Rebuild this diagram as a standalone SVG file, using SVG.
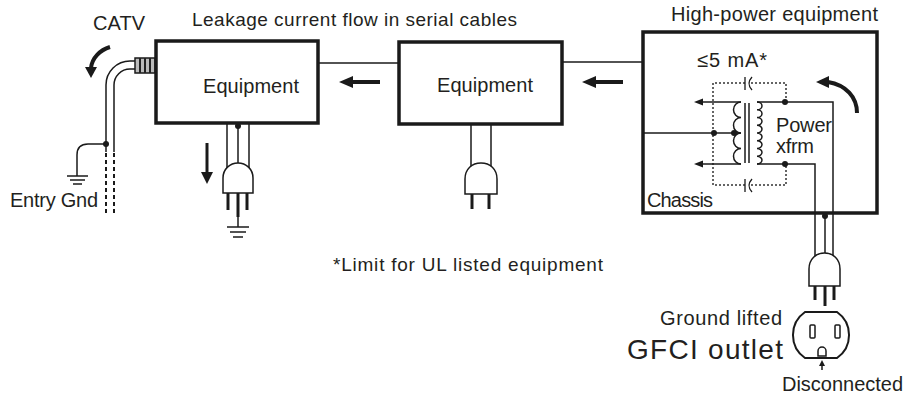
<svg xmlns="http://www.w3.org/2000/svg" width="905" height="396" viewBox="0 0 905 396">
  <defs>
    <style>
      .txt { font-family: "Liberation Sans", Arial, sans-serif; font-size: 20px; fill: #231f20; }
      .big { font-size: 28px; }
      .small { font-size: 19px; }
      .box { fill: #fff; stroke: #1a1a1a; stroke-width: 3.5; }
      .wire { fill: none; stroke: #1a1a1a; stroke-width: 1.5; }
      .dot { fill: #1a1a1a; }
      .dotted { fill: none; stroke: #333; stroke-width: 1.5; stroke-dasharray: 2 2; }
      .flow { fill: none; stroke: #1a1a1a; stroke-width: 4; }
      .head { fill: #1a1a1a; }
      .plug { fill: #fff; stroke: #1a1a1a; stroke-width: 1.5; }
      .prong { stroke: #1a1a1a; stroke-width: 3; }
      .gnd { stroke: #1a1a1a; stroke-width: 1.5; }
    </style>
  </defs>
  <rect width="905" height="396" fill="#fff"/>

  <!-- serial cables between the units -->
  <g id="connectors">
    <line class="wire" x1="318" y1="63" x2="399" y2="63"/>
    <line class="wire" x1="562" y1="62" x2="643" y2="62"/>
    <!-- leakage current flow arrows -->
    <line class="flow" x1="380" y1="82" x2="350" y2="82"/>
    <polygon class="head" points="339,82 353,76 353,88"/>
    <line class="flow" x1="623" y1="82" x2="593" y2="82"/>
    <polygon class="head" points="582,82 596,76 596,88"/>
  </g>

  <!-- CATV drop with entry ground -->
  <g id="catv">
    <path class="wire" d="M135,61 L130,61 A24 24 0 0 0 106,85 L106,152"/>
    <path class="wire" d="M135,69 L130,69 A16 16 0 0 0 114,85 L114,152"/>
    <line x1="106" y1="153" x2="106" y2="216" stroke="#1a1a1a" stroke-width="2" stroke-dasharray="4 3"/>
    <line x1="114" y1="153" x2="114" y2="216" stroke="#1a1a1a" stroke-width="2" stroke-dasharray="4 3"/>
    <circle class="dot" cx="106" cy="144" r="3"/>
    <path class="wire" d="M106,144 L88,144 Q77,144 77,155 L77,176"/>
    <line class="gnd" x1="67" y1="176" x2="88" y2="176"/>
    <line class="gnd" x1="70" y1="180" x2="85" y2="180"/>
    <line class="gnd" x1="73" y1="184" x2="82" y2="184"/>
    <!-- F connector -->
    <rect x="135" y="58" width="20" height="15" fill="#bbb" stroke="#1a1a1a" stroke-width="1.5"/>
    <line x1="140" y1="58" x2="140" y2="73" stroke="#222" stroke-width="2"/>
    <line x1="145" y1="58" x2="145" y2="73" stroke="#222" stroke-width="2"/>
    <line x1="150" y1="58" x2="150" y2="73" stroke="#222" stroke-width="2"/>
    <!-- current arrow -->
    <path class="flow" d="M110,47 C100,50 92,58 91,68" stroke-width="3.5"/>
    <polygon class="head" points="91,78 85,67 97,67"/>
    <text class="txt" x="93" y="30" textLength="52">CATV</text>
    <text class="txt" x="10" y="207" textLength="88">Entry Gnd</text>
  </g>

  <!-- first unit, grounded plug -->
  <g id="equipment-1">
    <line class="wire" x1="227" y1="123" x2="227" y2="172"/>
    <line class="wire" x1="238" y1="123" x2="238" y2="172"/>
    <line class="wire" x1="249" y1="123" x2="249" y2="172"/>
    <circle class="dot" cx="238" cy="126" r="3"/>
    <path class="plug" d="M223,193 L223,178 C223,169 230,163 238,163 C246,163 253,169 253,178 L253,193 Z"/>
    <line class="prong" x1="228" y1="193" x2="228" y2="210"/>
    <line class="prong" x1="247" y1="193" x2="247" y2="210"/>
    <line class="prong" x1="238" y1="193" x2="238" y2="217" stroke-width="4"/>
    <line class="gnd" x1="238" y1="217" x2="238" y2="227"/>
    <line class="gnd" x1="227" y1="227" x2="249" y2="227"/>
    <line class="gnd" x1="230" y1="232" x2="246" y2="232"/>
    <line class="gnd" x1="233" y1="237" x2="243" y2="237"/>
    <rect class="box" x="156" y="41" width="162" height="82"/>
    <text class="txt" x="203" y="93" textLength="96">Equipment</text>
    <line x1="207" y1="143" x2="207" y2="174" stroke="#1a1a1a" stroke-width="3"/>
    <polygon class="head" points="207,184 201,172 213,172"/>
  </g>

  <!-- second unit, two-prong plug -->
  <g id="equipment-2">
    <line class="wire" x1="471" y1="124" x2="471" y2="172"/>
    <line class="wire" x1="491" y1="124" x2="491" y2="172"/>
    <path class="plug" d="M465,194 L465,179 C465,169 472,163 481,163 C490,163 497,169 497,179 L497,194 Z"/>
    <line class="prong" x1="472" y1="194" x2="472" y2="209"/>
    <line class="prong" x1="489" y1="194" x2="489" y2="209"/>
    <rect class="box" x="399" y="42" width="163" height="82"/>
    <text class="txt" x="437" y="92" textLength="96">Equipment</text>
  </g>

  <!-- high-power unit with power transformer -->
  <g id="high-power">
    <rect class="box" x="643" y="32" width="234" height="181"/>
    <!-- stray capacitance path -->
    <path class="dotted" d="M745,83 L713,83 L713,185 L745,185"/>
    <path class="dotted" d="M751,83 L786,83 L786,102"/>
    <path class="dotted" d="M751,185 L786,185 L786,164"/>
    <line x1="745" y1="77" x2="745" y2="90" stroke="#1a1a1a" stroke-width="1.3"/>
    <path d="M752,77 Q746,83.5 752,90" fill="none" stroke="#1a1a1a" stroke-width="1.3"/>
    <line x1="745" y1="179" x2="745" y2="192" stroke="#1a1a1a" stroke-width="1.3"/>
    <path d="M752,179 Q746,185.5 752,192" fill="none" stroke="#1a1a1a" stroke-width="1.3"/>
    <!-- primary winding -->
    <path class="wire" d="M741,102 A7.5 7.75 0 0 0 741,117.5 A7.5 7.75 0 0 0 741,133 A7.5 7.75 0 0 0 741,148.5 A7.5 7.75 0 0 0 741,164"/>
    <line class="wire" x1="741" y1="102" x2="702" y2="102"/>
    <polygon class="head" points="694,102 703,98.5 703,105.5"/>
    <line class="wire" x1="741" y1="164" x2="702" y2="164"/>
    <polygon class="head" points="694,164 703,160.5 703,167.5"/>
    <line class="wire" x1="643" y1="133" x2="741" y2="133"/>
    <circle class="dot" cx="714" cy="133" r="3"/>
    <circle class="dot" cx="734" cy="133" r="3"/>
    <!-- core -->
    <line class="wire" x1="745" y1="103" x2="745" y2="163"/>
    <line class="wire" x1="749" y1="103" x2="749" y2="163"/>
    <!-- secondary winding -->
    <path class="wire" d="M757,102 A5 3.875 0 0 1 757,109.75 A5 3.875 0 0 1 757,117.5 A5 3.875 0 0 1 757,125.25 A5 3.875 0 0 1 757,133 A5 3.875 0 0 1 757,140.75 A5 3.875 0 0 1 757,148.5 A5 3.875 0 0 1 757,156.25 A5 3.875 0 0 1 757,164"/>
    <path class="wire" d="M757,102 L833,102 L833,258"/>
    <path class="wire" d="M757,164 L815,164 L815,258"/>
    <circle class="dot" cx="785" cy="102" r="3"/>
    <circle class="dot" cx="785" cy="164" r="3"/>
    <!-- current return arrow -->
    <path class="flow" d="M857,113 C857,97 846,85 828,82" stroke-width="3.5"/>
    <polygon class="head" points="816,82 829,76 829,88"/>
    <text class="txt" x="697" y="67" textLength="70">≤5 mA*</text>
    <text class="txt" x="776" y="132" textLength="56">Power</text>
    <text class="txt" x="776" y="153" textLength="38">xfrm</text>
    <text class="txt" x="647" y="207" textLength="66">Chassis</text>
    <!-- line cord and plug -->
    <line class="wire" x1="825" y1="213" x2="825" y2="258"/>
    <circle class="dot" cx="825" cy="216" r="3"/>
    <path class="plug" d="M809,286 L809,269 C809,259 816,253 824.5,253 C833,253 840,259 840,269 L840,286 Z"/>
    <line class="prong" x1="815" y1="286" x2="815" y2="300"/>
    <line class="prong" x1="834" y1="286" x2="834" y2="300"/>
    <line class="prong" x1="825" y1="286" x2="825" y2="306" stroke-width="4"/>
  </g>

  <!-- GFCI receptacle -->
  <g id="outlet">
    <path d="M805,312 L837,312 A28 28 0 0 1 837,358 L805,358 A28 28 0 0 1 805,312 Z" fill="#fff" stroke="#1a1a1a" stroke-width="2"/>
    <rect x="810" y="325" width="5" height="13" rx="1" fill="#fff" stroke="#1a1a1a" stroke-width="1.5"/>
    <rect x="835" y="325" width="5" height="13" rx="1" fill="#fff" stroke="#1a1a1a" stroke-width="1.5"/>
    <path d="M818,356 L818,351 A4 4 0 0 1 826,351 L826,356 Z" fill="#fff" stroke="#1a1a1a" stroke-width="1.5"/>
    <line class="gnd" x1="822" y1="370" x2="822" y2="365"/>
    <polygon class="head" points="822,360 819,366 825,366"/>
    <text class="txt" x="660" y="325" textLength="122">Ground lifted</text>
    <text class="txt big" x="627" y="359" textLength="156">GFCI outlet</text>
    <text class="txt" x="782" y="391" textLength="121">Disconnected</text>
  </g>

  <!-- captions -->
  <g id="captions">
    <text class="txt small" x="192" y="26" textLength="325">Leakage current flow in serial cables</text>
    <text class="txt" x="671" y="21" textLength="207">High-power equipment</text>
    <text class="txt small" x="333" y="271" textLength="270">*Limit for UL listed equipment</text>
  </g>
</svg>
